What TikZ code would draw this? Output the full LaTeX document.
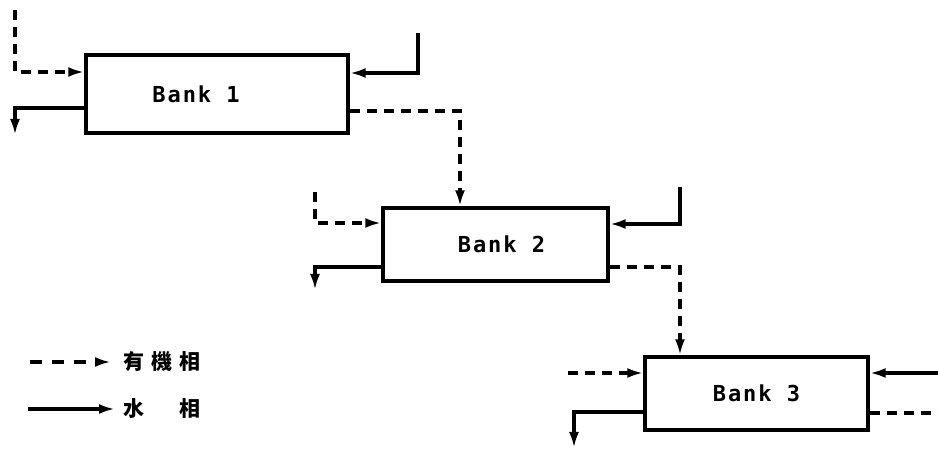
\documentclass[tikz,border=0pt]{standalone}
\usepackage{fontspec}
\usetikzlibrary{arrows.meta}
\newfontfamily\cjk[LetterSpace=33]{Noto Sans CJK TC}
\newfontfamily\bankfont[LetterSpace=9]{DejaVu Sans Mono}
\begin{document}
\begin{tikzpicture}[x=0.5pt,y=-0.5pt,
  bank/.style={draw,line width=1.7pt,minimum width=#1,inner sep=0pt,font=\bankfont\bfseries\fontsize{11}{13}\selectfont},
  flow/.style={line width=1.6pt,-{Latex[length=8pt,width=5pt]}},
  org/.style={flow,dash pattern=on 5pt off 3.5pt},
  aq/.style={flow},
  orgend/.style={line width=1.6pt,dash pattern=on 5pt off 3.5pt},
  legtext/.style={anchor=west,inner sep=0pt,font=\cjk\bfseries\fontsize{10.5}{12}\selectfont}]
\useasboundingbox (0,0) rectangle (938,458);
% boxes
\node[bank=131pt,minimum height=39pt] (b1) at (217,94) {\hspace*{-21pt}Bank 1};
\node[bank=112.5pt,minimum height=36.5pt] (b2) at (495.5,244.5) {\hspace*{6pt}Bank 2};
\node[bank=111.5pt,minimum height=36.5pt] (b3) at (756.5,393.5) {Bank 3};
% free ends
\coordinate (o1in) at (15,10);
\coordinate (a1out) at (15,135);
\coordinate (a1in) at (418,33);
\coordinate (o2in) at (315,192);
\coordinate (a2out) at (315,290);
\coordinate (a2in) at (680,187);
\coordinate (o3in) at (568,373);
\coordinate (a3out) at (574,448);
\coordinate (a3in) at (938,373);
\coordinate (o3out) at (938,413);
% bank 1
\draw[org] (o1in) |- ([yshift=11pt]b1.west);
\draw[aq] ([yshift=-7pt]b1.west) -| (a1out);
\draw[aq] (a1in) |- ([yshift=10.5pt]b1.east);
\draw[org] ([yshift=-8.5pt]b1.east) -| ([xshift=-17.75pt]b2.north);
% bank 2
\draw[org] (o2in) |- ([yshift=10.75pt]b2.west);
\draw[aq] ([yshift=-11.25pt]b2.west) -| (a2out);
\draw[aq] (a2in) |- ([yshift=10.25pt]b2.east);
\draw[org] ([yshift=-11.25pt]b2.east) -| ([xshift=-38.25pt]b3.north);
% bank 3
\draw[org] (o3in) -- ([yshift=10.25pt]b3.west);
\draw[aq] ([yshift=-9.25pt]b3.west) -| (a3out);
\draw[aq] (a3in) -- ([yshift=10.25pt]b3.east);
\draw[orgend] ([yshift=-9.75pt]b3.east) -- (o3out);
% legend
\node[legtext] (lorg) at (123,362) {有機相};
\node[legtext] (laq) at (123,409) {水　相};
\coordinate (lo) at (30,362);
\coordinate (la) at (28,409);
\draw[org,dash pattern=on 6pt off 5pt] (lo) -- ([xshift=-6pt]lorg.west);
\draw[aq] (la) -- ([xshift=-4pt]laq.west);
\end{tikzpicture}
\end{document}
